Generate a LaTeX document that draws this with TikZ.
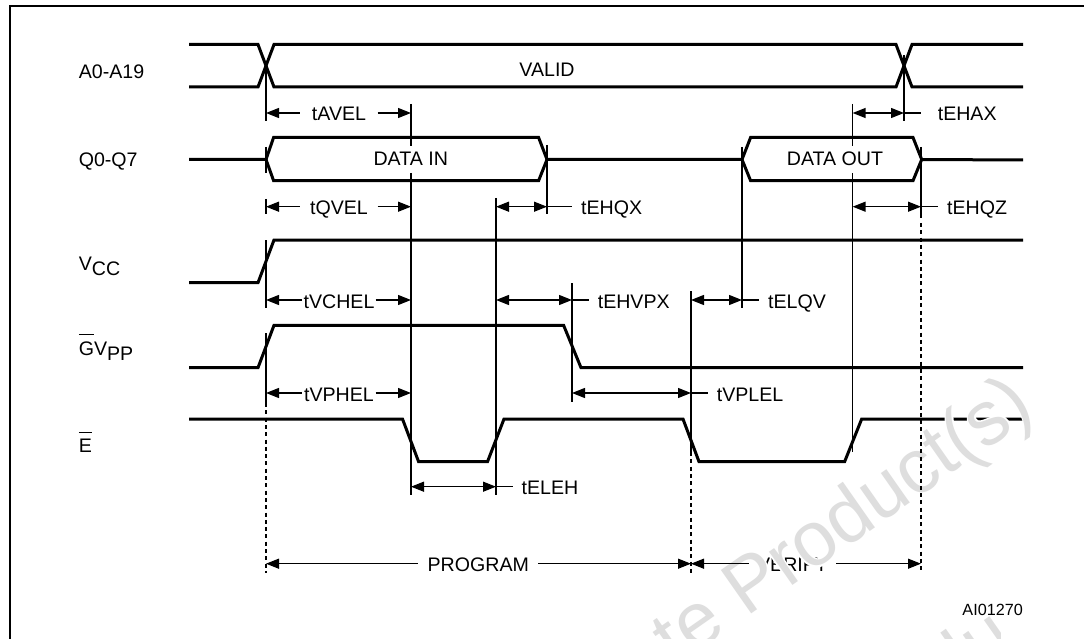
\documentclass[tikz,border=0pt]{standalone}
\usepackage{fontspec}
\setmainfont{Liberation Sans}
\newfontfamily\halofamily[FakeBold=4]{Liberation Sans}
\usetikzlibrary{arrows.meta, positioning}
\definecolor{wmgray}{HTML}{DEDEDE}
\newcommand{\sigfont}{\fontsize{19.6}{22}\selectfont}
\newcommand{\wmfont}{\fontsize{77}{80}\selectfont}
\newcommand{\barred}[1]{\leavevmode\setbox0\hbox{#1}\rlap{\rule[20pt]{\wd0}{1.2pt}}\box0}
\tikzset{
  >={Triangle[length=13pt,width=10pt]},
  trace/.style={line width=3pt, line join=miter},
  frameline/.style={line width=2pt},
  edgeline/.style={line width=1.3pt},
  dashline/.style={line width=1.3pt, dash pattern=on 4pt off 3.3pt},
  dimlabel/.style={font=\sigfont, inner xsep=0pt, inner ysep=0pt, text height=17pt, text depth=1pt},
  siglabel/.style={font=\sigfont, inner sep=0pt, anchor=base west},
  watermark/.style={font=\wmfont, inner sep=0pt, anchor=base west, rotate=35, text=wmgray}
}
\begin{document}
\begin{tikzpicture}[x=1pt,y=-1pt]
\useasboundingbox (0,0) rectangle (1084,639);
\clip (0,0) rectangle (1084,639);

% Frame
\draw[frameline] (10,645) -- (10,5.7) -- (1090,5.7);

% E trace and VERIFY sit under the watermark
\draw[trace] (189,419) -- (402.5,419) -- (418.6,461.7) -- (487.5,461.7) -- (504,419)
  -- (683,419) -- (699,461.7) -- (844.6,461.7) -- (861.7,419) -- (1023,419);
\node[dimlabel, inner xsep=8pt] (verify) at (792.5,563.7) {VERIFY};

% Watermark
\node[watermark, text=white] (wmhalo) at (476,807) {\halofamily Obsolete Product(s)};
\node[watermark] (wmone) at (476,807) {Obsolete Product(s)};
\begin{scope}
  \clip (880,600) rectangle (1000,639);
  \node[watermark] (wmtwo) at (579,954) {Obsolete Product(s)};
\end{scope}

% Edge positions of the timing lines
\coordinate (eA) at (266,0);
\coordinate (eB) at (411,0);
\coordinate (eC) at (496,0);
\coordinate (eD) at (547,0);
\coordinate (eE) at (572,0);
\coordinate (eF) at (691,0);
\coordinate (eG) at (742,0);
\coordinate (eH) at (852.6,0);
\coordinate (eI) at (904,0);
\coordinate (eJ) at (921,0);

% Signal names
\node[siglabel] (sigaddr) at (78.6,78.7) {A0-A19};
\node[siglabel] (sigdata) at (78.6,166.5) {Q0-Q7};
\node[siglabel] (sigvcc) at (78.6,270) {V\raisebox{-5pt}{CC}};
\node[siglabel] (sigvpp) at (78.6,355) {\barred{G}V\raisebox{-5.7pt}{PP}};
\node[siglabel] (sige) at (78.6,452.7) {\barred{E}};

% A0-A19
\draw[trace] (189,44.5) -- (258,44.5) -- (274,87) -- (896,87) -- (912,44.5) -- (1023,44.5);
\draw[trace] (189,87) -- (258,87) -- (274,44.5) -- (896,44.5) -- (912,87) -- (1023,87);

% Q0-Q7
\draw[trace] (189,159.5) -- (266,159.5) -- (273.6,137.5) -- (538.6,137.5) -- (547,159.5)
  -- (742,159.5) -- (750.6,137.5) -- (913,137.5) -- (921.7,159.5) -- (1023,160);
\draw[trace] (266,159.5) -- (273.6,180.7) -- (538.6,180.7) -- (547,159.5);
\draw[trace] (742,159.5) -- (750.6,180.7) -- (913,180.7) -- (921.7,159.5);

% VCC and GVPP
\draw[trace] (189,282.7) -- (258,282.7) -- (274,240) -- (1023,240);
\draw[trace] (189,367.7) -- (258,367.7) -- (274,325.3) -- (563.6,325.3) -- (581,367.7) -- (1023,367.7);

% Vertical edges
\foreach \x/\a/\b in {266/66/121, 266/147/173, 266/199/214, 266/240/308, 266/333/403,
    411/104/146, 411/173/495, 496/198/495, 547/145/214, 572/283/402, 691/291/452,
    742/147/308, 852.6/104/146, 852.6/173/452, 904/55/121, 921/147/218} {
  \draw[edgeline] (\x,\a) -- (\x,\b);
}
\draw[dashline] (266,403) -- (266,573);
\draw[dashline] (691,452) -- (691,573);
\draw[dashline] (921,223) -- (921,570);

% Labels inside the waveforms
\node[dimlabel] (valid) at (547,68.7) {VALID};
\node[dimlabel] (datain) at (410.7,157.7) {DATA IN};
\node[dimlabel] (dataout) at (835,157.7) {DATA OUT};

% Setup labels between two edges
\node[dimlabel, minimum width=77pt] (tAVEL) at (339,113) {tAVEL};
\node[dimlabel, minimum width=77pt] (tQVEL) at (339,206.7) {tQVEL};
\node[dimlabel, minimum width=73pt] (tVCHEL) at (339,300) {tVCHEL};
\node[dimlabel, minimum width=73pt] (tVPHEL) at (339,393) {tVPHEL};
\node[dimlabel, minimum width=119.4pt] (program) at (478.3,563.7) {PROGRAM};
\foreach \lbl/\from/\to in {tAVEL/eA/eB, tQVEL/eA/eB, tVCHEL/eA/eB, tVPHEL/eA/eB, program/eA/eF, verify/eF/eJ} {
  \draw[edgeline, <-] (\from |- \lbl) -- (\lbl.west);
  \draw[edgeline, ->] (\lbl.east) -- (\to |- \lbl);
}

% Labels to the right of their edges
\node[dimlabel, anchor=west, inner xsep=9pt] (tEHQX) at (572,206.7) {tEHQX};
\node[dimlabel, anchor=west, inner xsep=9pt] (tEHVPX) at (588.6,300) {tEHVPX};
\node[dimlabel, anchor=west, inner xsep=9pt] (tELQV) at (759,300) {tELQV};
\node[dimlabel, anchor=west, inner xsep=17pt] (tEHAX) at (920.6,113) {tEHAX};
\node[dimlabel, anchor=west, inner xsep=9pt] (tEHQZ) at (938,206.7) {tEHQZ};
\node[dimlabel, anchor=west, inner xsep=9pt] (tVPLEL) at (707.6,393) {tVPLEL};
\node[dimlabel, anchor=west, inner xsep=9pt] (tELEH) at (512.5,486.7) {tELEH};
\foreach \lbl/\from/\to in {tEHQX/eC/eD, tEHVPX/eC/eE, tELQV/eF/eG, tEHAX/eH/eI, tEHQZ/eH/eJ, tVPLEL/eE/eF, tELEH/eB/eC} {
  \draw[edgeline, <->] (\from |- \lbl) -- (\to |- \lbl);
  \draw[edgeline] (\to |- \lbl) -- (\lbl.west);
}

% Drawing number
\node[font=\fontsize{16.2}{18}\selectfont, inner sep=0pt, anchor=base east] (drawno) at (1023,615) {AI01270};

\end{tikzpicture}
\end{document}
